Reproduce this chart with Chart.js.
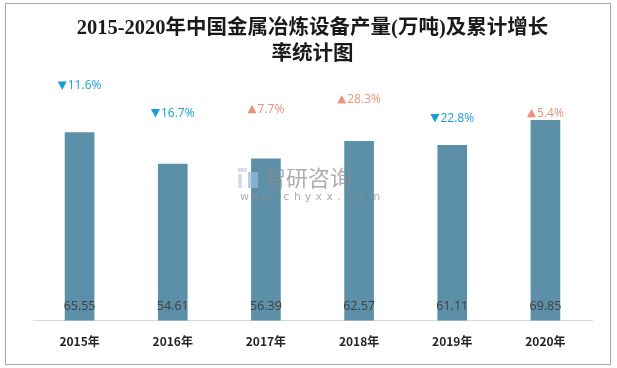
<!DOCTYPE html>
<html>
<head>
<meta charset="utf-8">
<script src="https://cdn.jsdelivr.net/npm/chart.js@4.4.1/dist/chart.umd.min.js"></script>
<style>
  body { margin: 0; background: #fff; }
  #wrap { width: 617px; height: 368px; position: relative; }
</style>
</head>
<body>
<div id="wrap"><canvas id="chart" width="617" height="368"></canvas></div>
<script>
// données
const years = ["2015年", "2016年", "2017年", "2018年", "2019年", "2020年"];
const output = [65.55, 54.61, 56.39, 62.57, 61.11, 69.85];
const growth = [-11.6, -16.7, 7.7, 28.3, -22.8, 5.4];
// hauteur (unités de l'axe y) où sont posées les étiquettes de croissance
const growthLevel = [81.8, 72.2, 73.7, 77.1, 70.5, 72.3];

const BAR = "#5b90a8";
const DOWN = "#1aa0d8";
const UP = "#f0907a";

// cadre gris + filigrane + étiquettes
const decor = {
  id: "decor",
  beforeDraw(chart) {
    const ctx = chart.ctx;
    ctx.save();
    ctx.strokeStyle = "#a6a6a6";
    ctx.lineWidth = 1;
    ctx.strokeRect(5.5, 3.5, 605, 361);
    ctx.restore();
  },
  afterDatasetsDraw(chart) {
    const ctx = chart.ctx;
    const bars = chart.getDatasetMeta(0).data;
    const pts = chart.getDatasetMeta(1).data;
    ctx.save();
    ctx.textBaseline = "middle";

    // valeurs en bas des barres
    ctx.textAlign = "center";
    ctx.font = "12.5px 'Open Sans', 'Noto Sans'";
    ctx.fillStyle = "#404040";
    bars.forEach((b, i) => {
      ctx.fillText(output[i].toFixed(2), b.x, b.base - 14);
    });

    // croissance : triangle + texte
    ctx.textAlign = "left";
    ctx.font = "12px 'Open Sans', 'Noto Sans'";
    pts.forEach((p, i) => {
      const g = growth[i];
      const txt = Math.abs(g).toFixed(1) + "%";
      const w = 10 + ctx.measureText(txt).width;
      const x0 = p.x - w / 2;
      ctx.fillStyle = g < 0 ? DOWN : UP;
      ctx.beginPath();
      if (g < 0) {
        ctx.moveTo(x0, p.y - 4.5);
        ctx.lineTo(x0 + 9, p.y - 4.5);
        ctx.lineTo(x0 + 4.5, p.y + 4);
      } else {
        ctx.moveTo(x0, p.y + 4);
        ctx.lineTo(x0 + 9, p.y + 4);
        ctx.lineTo(x0 + 4.5, p.y - 4.5);
      }
      ctx.closePath();
      ctx.fill();
      ctx.fillText(txt, x0 + 10, p.y);
    });

    // filigrane
    ctx.globalAlpha = 0.7;
    ctx.fillStyle = "#c3d0e4";
    ctx.fillRect(238, 168, 9, 4);
    ctx.fillRect(238, 174, 4, 14);
    ctx.fillStyle = "#9bbbe0";
    ctx.fillRect(248, 172, 10, 16);
    ctx.fillStyle = "#8c8c8c";
    ctx.font = "22px 'Noto Sans CJK SC'";
    ctx.fillText("智研咨询", 264, 178);
    ctx.font = "11px 'DejaVu Sans'";
    const site = "www.chyxx.com";
    for (let k = 0; k < site.length; k++) {
      ctx.fillText(site[k], 240 + k * 10.8, 197);
    }
    ctx.restore();
  }
};

new Chart(document.getElementById("chart"), {
  data: {
    labels: years,
    datasets: [
      {
        type: "bar",
        data: output,
        backgroundColor: BAR,
        borderWidth: 0,
        barThickness: 29,
        order: 2
      },
      {
        type: "line",
        data: growthLevel,
        showLine: false,
        pointRadius: 0,
        order: 1
      }
    ]
  },
  options: {
    responsive: false,
    animation: false,
    layout: { padding: { left: 33, right: 25, bottom: 5, top: 0 } },
    plugins: {
      legend: { display: false },
      tooltip: { enabled: false },
      title: {
        display: true,
        text: ["2015-2020年中国金属冶炼设备产量(万吨)及累计增长", "率统计图"],
        color: "#1a1a1a",
        font: { family: "'Liberation Serif', 'Noto Sans CJK SC'", size: 20.5, weight: "bold", lineHeight: 1.3 },
        padding: { top: 15, bottom: 0 }
      }
    },
    scales: {
      x: {
        grid: { display: false, drawTicks: false },
        border: { color: "#d9d9d9", width: 1 },
        ticks: {
          padding: 14,
          color: "#262626",
          font: { family: "'Noto Sans CJK SC'", size: 12, weight: "bold" }
        }
      },
      y: {
        display: false,
        min: 0,
        max: 88
      }
    }
  },
  plugins: [decor]
});
</script>
</body>
</html>
